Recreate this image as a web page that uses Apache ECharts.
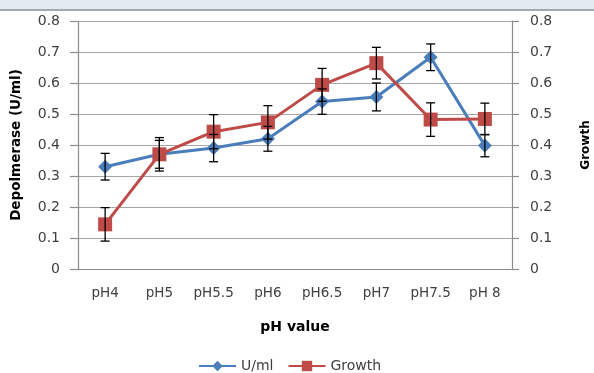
<!DOCTYPE html>
<html>
<head>
<meta charset="utf-8">
<script src="https://cdn.jsdelivr.net/npm/echarts@6/dist/echarts.min.js"></script>
<style>
  html, body { margin: 0; padding: 0; background: #ffffff; }
  #chart { width: 594px; height: 373px; }
</style>
</head>
<body>
<div id="chart"></div>
<script>
// pH levels tested
const categories = ['pH4', 'pH5', 'pH5.5', 'pH6', 'pH6.5', 'pH7', 'pH7.5', 'pH 8'];
// Depolymerase activity (U/ml) and its error
const umlValues = [0.33, 0.37, 0.39, 0.42, 0.54, 0.555, 0.683, 0.398];
const umlErrors = [0.043, 0.045, 0.044, 0.04, 0.041, 0.045, 0.043, 0.036];
// Growth and its error
const growthValues = [0.144, 0.37, 0.443, 0.473, 0.594, 0.664, 0.482, 0.484];
const growthErrors = [0.054, 0.054, 0.055, 0.054, 0.053, 0.051, 0.054, 0.051];
// Shared value-axis ticks
const yTicks = [0, 0.1, 0.2, 0.3, 0.4, 0.5, 0.6, 0.7, 0.8];

const FONT = 'DejaVu Sans';
const BLUE = '#4a7ebb';
const RED = '#be4b48';

function errorData(values, errors) {
  return values.map((v, i) => [i, v - errors[i], v + errors[i]]);
}

function renderErrorBar(params, api) {
  const x = api.value(0);
  const lo = api.coord([x, api.value(1)]);
  const hi = api.coord([x, api.value(2)]);
  const half = 4.5;
  const style = { stroke: '#000000', lineWidth: 1.3 };
  return {
    type: 'group',
    children: [
      { type: 'line', shape: { x1: hi[0], y1: hi[1], x2: lo[0], y2: lo[1] }, style },
      { type: 'line', shape: { x1: hi[0] - half, y1: hi[1], x2: hi[0] + half, y2: hi[1] }, style },
      { type: 'line', shape: { x1: lo[0] - half, y1: lo[1], x2: lo[0] + half, y2: lo[1] }, style }
    ]
  };
}

const valueAxisBase = {
  type: 'value',
  min: yTicks[0],
  max: yTicks[yTicks.length - 1],
  interval: 0.1,
  axisLine: { show: true, lineStyle: { color: '#8c8c8c', width: 1.2 } },
  axisTick: { show: true, inside: false, length: 8, lineStyle: { color: '#8c8c8c', width: 1.2 } },
  axisLabel: {
    margin: 18,
    color: '#404040',
    fontFamily: FONT,
    fontSize: 14,
    formatter: v => {
      const r = Math.round(v * 10) / 10;
      return r === 0 ? '0' : r.toFixed(1);
    }
  },
  nameLocation: 'middle',
  nameTextStyle: { fontFamily: FONT, fontWeight: 'bold', color: '#000000' }
};

const chart = echarts.init(document.getElementById('chart'), null, { renderer: 'canvas' });

chart.setOption({
  animation: false,
  backgroundColor: '#ffffff',
  graphic: [
    { type: 'rect', shape: { x: 0, y: 0, width: 594, height: 9 }, style: { fill: '#e4eaf2' }, z: -1 },
    { type: 'line', shape: { x1: 0, y1: 10, x2: 594, y2: 10 }, style: { stroke: '#a3a9b0', lineWidth: 2 }, z: -1 }
  ],
  grid: { left: 78, right: 82, top: 21, bottom: 104, containLabel: false, outerBoundsMode: 'none' },
  legend: {
    top: 354,
    left: 193,
    itemWidth: 37,
    itemHeight: 13,
    itemGap: 14,
    textStyle: { fontFamily: FONT, fontSize: 14, color: '#404040' },
    data: ['U/ml', 'Growth']
  },
  xAxis: {
    type: 'category',
    data: categories,
    boundaryGap: true,
    axisLine: { show: true, lineStyle: { color: '#8c8c8c', width: 1.2 } },
    axisTick: { show: false },
    axisLabel: { interval: 0, margin: 17, color: '#404040', fontFamily: FONT, fontSize: 13.5 },
    name: 'pH value',
    nameLocation: 'middle',
    nameGap: 51,
    nameTextStyle: { fontFamily: FONT, fontWeight: 'bold', fontSize: 14, color: '#000000' }
  },
  yAxis: [
    Object.assign({}, valueAxisBase, {
      position: 'left',
      name: 'Depolmerase (U/ml)',
      nameGap: 55,
      nameTextStyle: { fontFamily: FONT, fontWeight: 'bold', fontSize: 13.5, color: '#000000' },
      splitLine: { show: true, lineStyle: { color: '#a6a6a6', width: 1.2 } }
    }),
    Object.assign({}, valueAxisBase, {
      position: 'right',
      name: 'Growth',
      nameGap: 68,
      nameTextStyle: { fontFamily: FONT, fontWeight: 'bold', fontSize: 12, color: '#000000' },
      axisTick: { show: true, inside: false, length: 7, lineStyle: { color: '#8c8c8c', width: 1.2 } },
      splitLine: { show: false }
    })
  ],
  series: [
    {
      name: 'U/ml',
      type: 'line',
      yAxisIndex: 0,
      data: umlValues,
      symbol: 'diamond',
      symbolSize: 14,
      lineStyle: { color: BLUE, width: 3 },
      itemStyle: { color: BLUE },
      z: 3
    },
    {
      name: 'Growth',
      type: 'line',
      yAxisIndex: 1,
      data: growthValues,
      symbol: 'rect',
      symbolSize: 14,
      lineStyle: { color: RED, width: 3 },
      itemStyle: { color: RED },
      z: 4
    },
    {
      name: 'U/ml error',
      type: 'custom',
      yAxisIndex: 0,
      data: errorData(umlValues, umlErrors),
      renderItem: renderErrorBar,
      encode: { x: 0, y: [1, 2] },
      z: 6,
      silent: true
    },
    {
      name: 'Growth error',
      type: 'custom',
      yAxisIndex: 1,
      data: errorData(growthValues, growthErrors),
      renderItem: renderErrorBar,
      encode: { x: 0, y: [1, 2] },
      z: 6,
      silent: true
    }
  ]
});
</script>
</body>
</html>
